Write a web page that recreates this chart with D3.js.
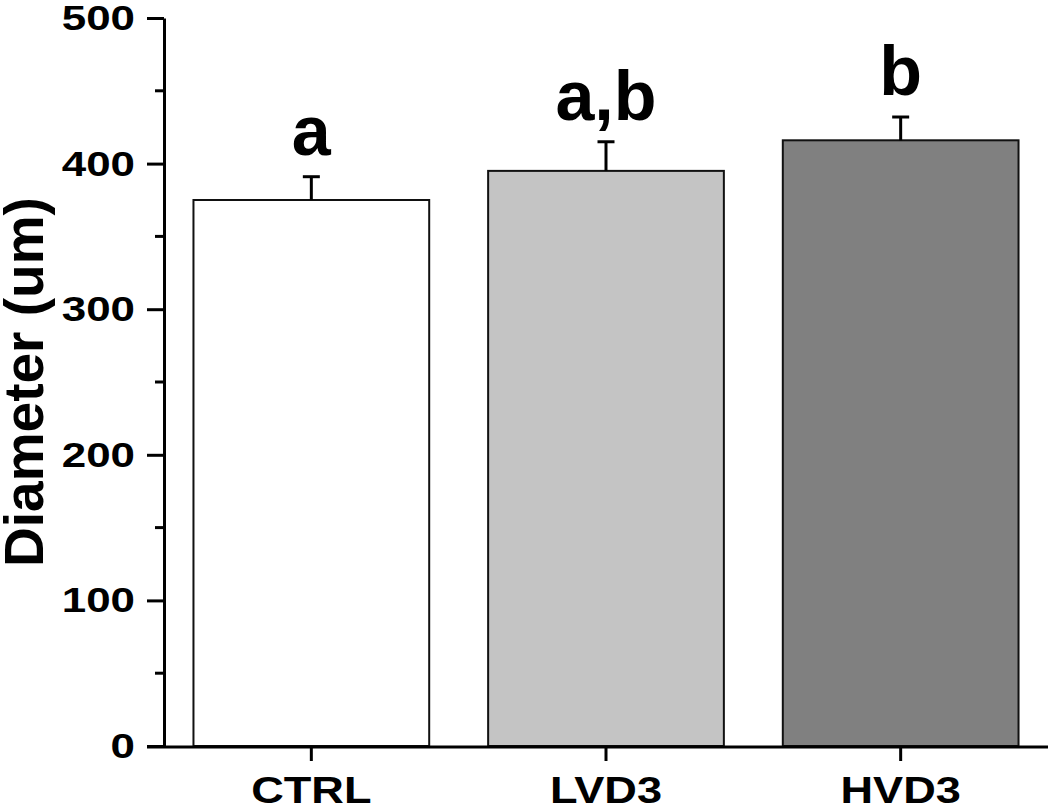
<!DOCTYPE html>
<html>
<head>
<meta charset="utf-8">
<script src="https://cdn.jsdelivr.net/npm/d3@7"></script>
<style>
  html, body { margin: 0; padding: 0; background: #fff; }
  svg { display: block; }
  text { font-family: "Liberation Sans", Arial, sans-serif; font-weight: bold; fill: #000; }
</style>
</head>
<body>
<svg id="chart" width="1050" height="808"></svg>
<script>
const categories = ["CTRL", "LVD3", "HVD3"];
const means = [375, 395, 416];
const sds = [16, 20, 16];
const letters = ["a", "a,b", "b"];
const fills = ["#ffffff", "#c4c4c4", "#808080"];
const yTicks = [0, 100, 200, 300, 400, 500];
const yTitle = "Diameter (um)";

const svg = d3.select("#chart");
const x0 = 164, x1 = 1048, yTop = 18, yBot = 746;
const stretch = 1.22;

const x = d3.scaleBand().domain(categories).range([x0, x1])
  .paddingInner(0.2).paddingOuter(0.1);
const y = d3.scaleLinear().domain([0, 500]).range([yBot, yTop]);

// bars
svg.append("g").selectAll("rect").data(categories).join("rect")
  .attr("x", d => x(d))
  .attr("y", (d, i) => y(means[i]))
  .attr("width", x.bandwidth())
  .attr("height", (d, i) => y(0) - y(means[i]))
  .attr("fill", (d, i) => fills[i])
  .attr("stroke", "#111")
  .attr("stroke-width", 2);

// error bars (upper only)
const eb = svg.append("g").attr("stroke", "#000").attr("stroke-width", 3);
categories.forEach((c, i) => {
  const cx = x(c) + x.bandwidth() / 2;
  eb.append("line").attr("x1", cx).attr("x2", cx)
    .attr("y1", y(means[i])).attr("y2", y(means[i] + sds[i]));
  eb.append("line").attr("x1", cx - 8.5).attr("x2", cx + 8.5)
    .attr("y1", y(means[i] + sds[i])).attr("y2", y(means[i] + sds[i]));
});

// significance letters
svg.append("g").selectAll("text").data(categories).join("text")
  .attr("x", d => x(d) + x.bandwidth() / 2)
  .attr("y", (d, i) => y(means[i] + sds[i]) - 22)
  .attr("text-anchor", "middle")
  .attr("font-size", 70)
  .text((d, i) => letters[i]);

// y axis
const yAxis = d3.axisLeft(y).tickValues(yTicks).tickSize(17).tickPadding(12).tickSizeOuter(0);
const gy = svg.append("g").attr("transform", `translate(${x0},0)`).call(yAxis);
gy.select(".domain").attr("stroke-width", 3).attr("stroke", "#000");
gy.selectAll(".tick line").attr("stroke-width", 3).attr("stroke", "#000");
gy.selectAll(".tick text")
  .attr("font-size", 36)
  .attr("font-family", '"Liberation Sans", Arial, sans-serif')
  .attr("font-weight", "bold")
  .attr("x", -29 / stretch)
  .attr("transform", `scale(${stretch},1)`);
// minor ticks
const minor = d3.range(50, 500, 100);
gy.selectAll(".minor").data(minor).join("line")
  .attr("x1", -9).attr("x2", 0)
  .attr("y1", d => y(d)).attr("y2", d => y(d))
  .attr("stroke", "#000").attr("stroke-width", 3);

// x axis
const xAxis = d3.axisBottom(x).tickSize(14).tickPadding(16).tickSizeOuter(0);
const gx = svg.append("g").attr("transform", `translate(0,${yBot + 1})`).call(xAxis);
gx.select(".domain").attr("stroke-width", 3).attr("stroke", "#000")
  .attr("d", `M${x0 - 17},0H${x1}`);
gx.selectAll(".tick line").attr("stroke-width", 3).attr("stroke", "#000");
gx.selectAll(".tick text")
  .attr("font-size", 37)
  .attr("font-family", '"Liberation Sans", Arial, sans-serif')
  .attr("font-weight", "bold")
  .attr("transform", `scale(${stretch},1)`);

// y title
svg.append("text")
  .attr("transform", `translate(43,${(yTop + yBot) / 2}) rotate(-90)`)
  .attr("text-anchor", "middle")
  .attr("font-size", 55)
  .text(yTitle);
</script>
</body>
</html>
